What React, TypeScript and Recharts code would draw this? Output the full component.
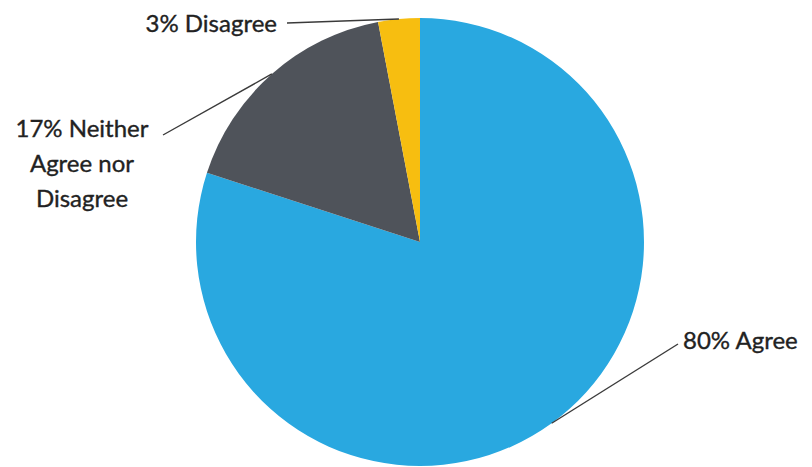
import React from 'react';
import { PieChart, Pie, Cell } from 'recharts';

const categories = ['Agree', 'Neither Agree nor Disagree', 'Disagree'];
const values = [80, 17, 3];
const labelLines = [['80% Agree'], ['17% Neither', 'Agree nor', 'Disagree'], ['3% Disagree']];
const colors = ['#29A8E0', '#4F535A', '#F7BE10'];

const data = categories.map((name, i) => ({ name, value: values[i] }));

// label layout, offsets relative to the pie centre
const labelLayout = [
  { lineEnd: [258, 102], textX: 263, textY: 97, anchor: 'start' },
  { lineEnd: [-257, -107], textX: -338, textY: -115, anchor: 'middle' },
  { lineEnd: [-133, -219], textX: -143, textY: -220, anchor: 'end' },
];

const RAD = Math.PI / 180;

const renderLabel = (props: any) => {
  const { cx, cy, midAngle, outerRadius, index } = props;
  const L = labelLayout[index];
  const sx = cx + outerRadius * Math.cos(-midAngle * RAD);
  const sy = cy + outerRadius * Math.sin(-midAngle * RAD);
  const ex = cx + L.lineEnd[0];
  const ey = cy + L.lineEnd[1];
  const lines = labelLines[index];
  return (
    <g key={`lbl-${index}`}>
      <line x1={sx} y1={sy} x2={ex} y2={ey} stroke="#3a3a3a" strokeWidth={1.4} />
      <text
        x={cx + L.textX}
        y={cy + L.textY}
        textAnchor={L.anchor}
        fill="#222"
        stroke="#222"
        strokeWidth={0.35}
        fontFamily="Lato, 'Open Sans', sans-serif"
        fontSize={24}
        dominantBaseline="central"
      >
        {lines.map((t, k) => (
          <tspan key={k} x={cx + L.textX} dy={k === 0 ? 0 : 35}>
            {t}
          </tspan>
        ))}
      </text>
    </g>
  );
};

export default function App() {
  return (
    <div style={{ position: 'fixed', left: 0, top: 0, width: 812, height: 467, background: '#fff' }}>
      <PieChart width={812} height={467} margin={{ top: 0, right: 0, bottom: 0, left: 0 }}>
        <Pie
          data={data}
          dataKey="value"
          nameKey="name"
          cx={420}
          cy={242}
          outerRadius={224}
          startAngle={90}
          endAngle={-270}
          stroke="none"
          isAnimationActive={false}
          label={renderLabel}
          labelLine={false}
        >
          {data.map((d, i) => (
            <Cell key={d.name} fill={colors[i]} />
          ))}
        </Pie>
      </PieChart>
    </div>
  );
}
